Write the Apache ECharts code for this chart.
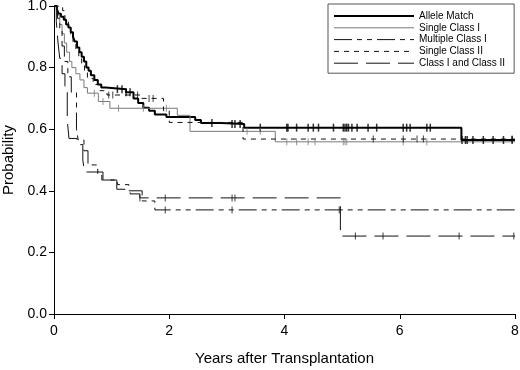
<!DOCTYPE html>
<html>
<head>
<meta charset="utf-8">
<script src="https://cdn.jsdelivr.net/npm/echarts@6/dist/echarts.min.js"></script>
<style>
html, body { margin: 0; padding: 0; background: #fff; }
#chart { width: 520px; height: 370px; }
</style>
</head>
<body>
<div id="chart"></div>
<script>

// step points: [years, survival probability after the step]
const allelePts = [
    [0, 1.0], [0.05, 0.99], [0.08, 0.975], [0.12, 0.965], [0.17, 0.955],
    [0.21, 0.94], [0.25, 0.93], [0.29, 0.915], [0.33, 0.90], [0.36, 0.885],
    [0.40, 0.865], [0.44, 0.85], [0.48, 0.835], [0.52, 0.82], [0.56, 0.80],
    [0.60, 0.79], [0.64, 0.775], [0.70, 0.76], [0.76, 0.745], [0.82, 0.735],
    [0.90, 0.73], [1.25, 0.72], [1.38, 0.70], [1.46, 0.685], [1.55, 0.67],
    [1.65, 0.66], [1.75, 0.648], [1.95, 0.64], [2.45, 0.63], [2.55, 0.62],
    [2.90, 0.617], [3.30, 0.605], [7.07, 0.565], [8.0, 0.565]
];
const singleIPts = [
    [0, 1.0], [0.05, 0.97], [0.10, 0.94], [0.14, 0.91], [0.18, 0.88],
    [0.22, 0.85], [0.27, 0.82], [0.31, 0.80], [0.38, 0.78], [0.45, 0.76],
    [0.52, 0.735], [0.58, 0.717], [0.77, 0.69], [0.97, 0.668], [2.14, 0.645],
    [2.36, 0.593], [3.84, 0.559], [8.0, 0.559]
];
const multipleIPts = [
    [0, 1.0], [0.06, 0.96], [0.10, 0.92], [0.14, 0.87], [0.18, 0.82],
    [0.24, 0.77], [0.30, 0.72], [0.39, 0.60], [0.42, 0.565], [0.52, 0.53],
    [0.59, 0.484], [0.76, 0.45], [0.83, 0.435], [1.10, 0.42], [1.30, 0.40],
    [1.53, 0.367], [1.75, 0.338], [8.0, 0.338]
];
const singleIIPts = [
    [0, 1.0], [0.15, 0.985], [0.19, 0.955], [0.25, 0.93], [0.29, 0.90],
    [0.33, 0.875], [0.38, 0.855], [0.43, 0.835], [0.48, 0.81], [0.53, 0.79],
    [0.58, 0.765], [0.68, 0.745], [0.80, 0.725], [0.92, 0.711], [1.50, 0.70],
    [1.90, 0.66], [2.00, 0.622], [3.28, 0.568], [8.0, 0.568]
];
const classBothPts = [
    [0, 1.0], [0.04, 0.95], [0.07, 0.88], [0.10, 0.83], [0.14, 0.78],
    [0.19, 0.72], [0.23, 0.63], [0.26, 0.57], [0.40, 0.55], [0.50, 0.50],
    [0.53, 0.461], [0.85, 0.435], [1.09, 0.405], [1.32, 0.39], [1.49, 0.377],
    [4.97, 0.253], [8.0, 0.253]
];

// censored observations (years)
const alleleCens = [1.10, 1.18, 1.25, 1.32, 2.74, 3.09, 3.14, 3.23, 3.58, 4.04, 4.06,
    4.21, 4.41, 4.50, 4.59, 4.85, 5.02, 5.05, 5.08, 5.11, 5.17, 5.26, 5.45, 5.60,
    6.06, 6.12, 6.18, 6.47, 6.53, 7.08, 7.14, 7.17, 7.27, 7.45, 7.62, 7.80, 7.95];
const singleICens = [0.70, 0.85, 1.12, 1.55, 1.95, 3.35, 3.58, 4.04, 4.21, 4.41,
    4.53, 5.02, 5.05, 5.08, 6.06, 6.47];
const multipleICens = [1.93, 3.09, 4.95];
const singleIICens = [0.95, 1.02, 1.45, 1.65, 1.72, 5.54, 6.06, 6.30, 6.41, 7.95];
const classBothCens = [1.49, 1.93, 3.09, 3.14, 5.23, 5.71, 7.03, 7.98];

const names = ["Allele Match", "Single Class I", "Multiple Class I", "Single Class II", "Class I and Class II"];
const xTicks = [0, 2, 4, 6, 8];
const yTicks = [0, 0.2, 0.4, 0.6, 0.8, 1.0];

const FONT = "'Liberation Sans', Arial, sans-serif";

function valueAt(pts, t){
    let p = pts[0][1];
    for(let i=0;i<pts.length;i++){
        if(pts[i][0] <= t){
            p = pts[i][1];
        }
    }
    return p;
}

function stepSeries(name, pts, color, width, type){
    return {
        name: name,
        type: "line",
        step: "end",
        symbol: "none",
        data: pts,
        lineStyle: { color: color, width: width, type: type },
        itemStyle: { color: color },
        z: 3
    };
}

function censorSeries(name, pts, times, color, size){
    return {
        name: name + " censored",
        type: "scatter",
        symbol: "rect",
        symbolSize: size,
        data: times.map(t => [t, valueAt(pts, t)]),
        itemStyle: { color: color },
        silent: true,
        z: 4
    };
}

const chart = echarts.init(document.getElementById("chart"));

chart.setOption({
    animation: false,
    backgroundColor: "#fff",
    grid: {
        left: 54, right: 5, top: 6, bottom: 56,
        containLabel: false,
        outerBoundsMode: "none"
    },
    legend: {
        data: names,
        orient: "vertical",
        left: 328,
        top: 4,
        itemWidth: 80,
        itemHeight: 10,
        itemGap: 1.8,
        padding: [7, 9, 5, 5],
        borderColor: "#555",
        borderWidth: 1,
        textStyle: { fontSize: 10, fontFamily: FONT, color: "#000" },
        // hide the marker in the middle of each legend line
        itemStyle: { opacity: 0 },
        lineStyle: { width: "inherit", type: "inherit" }
    },
    xAxis: {
        type: "value",
        min: 0,
        max: 8,
        interval: 2,
        name: "Years after Transplantation",
        nameLocation: "middle",
        nameGap: 37,
        nameTextStyle: { fontSize: 15, fontFamily: FONT, color: "#000" },
        axisLine: { show: true, onZero: false, lineStyle: { color: "#000", width: 1 } },
        axisTick: { show: true, length: 5, lineStyle: { color: "#000" } },
        axisLabel: {
            fontSize: 14, fontFamily: FONT, color: "#000", margin: 10,
            formatter: v => xTicks.includes(v) ? String(v) : ""
        },
        splitLine: { show: false }
    },
    yAxis: {
        type: "value",
        min: 0,
        max: 1,
        interval: 0.2,
        name: "Probability",
        nameLocation: "middle",
        nameRotate: 90,
        nameGap: 34,
        nameTextStyle: { fontSize: 15, fontFamily: FONT, color: "#000" },
        axisLine: { show: true, lineStyle: { color: "#000", width: 1 } },
        axisTick: { show: true, length: 5, lineStyle: { color: "#000" } },
        axisLabel: {
            fontSize: 14, fontFamily: FONT, color: "#000", margin: 7,
            formatter: v => yTicks.some(y => Math.abs(y - v) < 1e-9) ? v.toFixed(1) : ""
        },
        splitLine: { show: false }
    },
    series: [
        stepSeries(names[0], allelePts, "#000", 2, "solid"),
        stepSeries(names[1], singleIPts, "#7a7a7a", 1, "solid"),
        stepSeries(names[2], multipleIPts, "#111", 1, [18, 5, 5, 5, 5, 5]),
        stepSeries(names[3], singleIIPts, "#111", 1, [5, 5]),
        stepSeries(names[4], classBothPts, "#111", 1, [24, 8]),
        censorSeries(names[0], allelePts, alleleCens, "#000", [1.5, 8]),
        censorSeries(names[1], singleIPts, singleICens, "#7a7a7a", [1, 7]),
        censorSeries(names[2], multipleIPts, multipleICens, "#111", [1, 7]),
        censorSeries(names[3], singleIIPts, singleIICens, "#111", [1, 7]),
        censorSeries(names[4], classBothPts, classBothCens, "#111", [1, 7])
    ]
});

</script>
</body>
</html>
